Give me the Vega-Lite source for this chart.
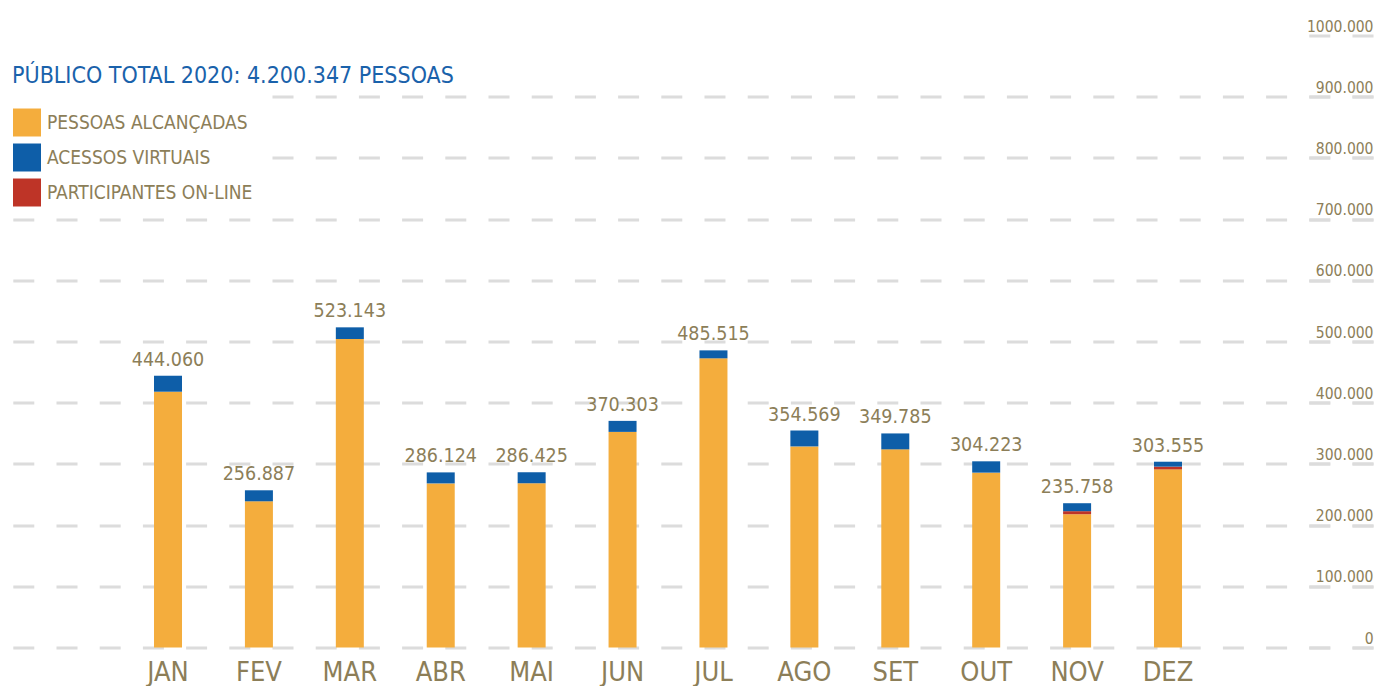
{
  "$schema": "https://vega.github.io/schema/vega-lite/v6.json",
  "width": 1361,
  "height": 612,
  "autosize": {"type": "none"},
  "padding": {"left": 12, "top": 35.5, "right": 4, "bottom": 38.5},
  "background": "white",
  "title": {
    "text": "PÚBLICO TOTAL 2020: 4.200.347 PESSOAS",
    "anchor": "start",
    "frame": "group",
    "orient": "top",
    "offset": 0,
    "dy": 87,
    "baseline": "alphabetic",
    "font": "DejaVu Sans Condensed, Roboto, sans-serif",
    "fontSize": 23,
    "fontWeight": "normal",
    "color": "#1a62ab"
  },
  "config": {
    "locale": {"number": {"decimal": ",", "thousands": ".", "grouping": [3], "currency": ["R$", ""]}},
    "view": {"stroke": null}
  },
  "data": {
    "values": [
      {"month": "JAN", "series": "PESSOAS ALCANÇADAS", "value": 417960},
      {"month": "JAN", "series": "ACESSOS VIRTUAIS", "value": 26100},
      {"month": "FEV", "series": "PESSOAS ALCANÇADAS", "value": 238887},
      {"month": "FEV", "series": "ACESSOS VIRTUAIS", "value": 18000},
      {"month": "MAR", "series": "PESSOAS ALCANÇADAS", "value": 504043},
      {"month": "MAR", "series": "ACESSOS VIRTUAIS", "value": 19100},
      {"month": "ABR", "series": "PESSOAS ALCANÇADAS", "value": 268124},
      {"month": "ABR", "series": "ACESSOS VIRTUAIS", "value": 18000},
      {"month": "MAI", "series": "PESSOAS ALCANÇADAS", "value": 268425},
      {"month": "MAI", "series": "ACESSOS VIRTUAIS", "value": 18000},
      {"month": "JUN", "series": "PESSOAS ALCANÇADAS", "value": 352303},
      {"month": "JUN", "series": "ACESSOS VIRTUAIS", "value": 18000},
      {"month": "JUL", "series": "PESSOAS ALCANÇADAS", "value": 472515},
      {"month": "JUL", "series": "ACESSOS VIRTUAIS", "value": 13000},
      {"month": "AGO", "series": "PESSOAS ALCANÇADAS", "value": 328569},
      {"month": "AGO", "series": "ACESSOS VIRTUAIS", "value": 26000},
      {"month": "SET", "series": "PESSOAS ALCANÇADAS", "value": 323785},
      {"month": "SET", "series": "ACESSOS VIRTUAIS", "value": 26000},
      {"month": "OUT", "series": "PESSOAS ALCANÇADAS", "value": 285723},
      {"month": "OUT", "series": "ACESSOS VIRTUAIS", "value": 18500},
      {"month": "NOV", "series": "PESSOAS ALCANÇADAS", "value": 217758},
      {"month": "NOV", "series": "PARTICIPANTES ON-LINE", "value": 5000},
      {"month": "NOV", "series": "ACESSOS VIRTUAIS", "value": 13000},
      {"month": "DEZ", "series": "PESSOAS ALCANÇADAS", "value": 291055},
      {"month": "DEZ", "series": "PARTICIPANTES ON-LINE", "value": 4500},
      {"month": "DEZ", "series": "ACESSOS VIRTUAIS", "value": 8000}
    ]
  },
  "encoding": {
    "x": {
      "field": "month",
      "type": "nominal",
      "scale": {
        "domain": ["JAN", "FEV", "MAR", "ABR", "MAI", "JUN", "JUL", "AGO", "SET", "OUT", "NOV", "DEZ", " "],
        "paddingInner": 0,
        "paddingOuter": 0.9855,
        "align": 0.617
      },
      "axis": {
        "title": null,
        "domain": false,
        "ticks": false,
        "grid": false,
        "labelAngle": 0,
        "labelFont": "DejaVu Sans Condensed, Roboto, sans-serif",
        "labelFontSize": 27,
        "labelColor": "#8c7e58",
        "labelPadding": 12
      }
    }
  },
  "layer": [
    {
      "transform": [
        {"calculate": "indexof(['PESSOAS ALCANÇADAS','PARTICIPANTES ON-LINE','ACESSOS VIRTUAIS'], datum.series)", "as": "ord"}
      ],
      "mark": {"type": "bar", "width": 28},
      "encoding": {
        "y": {
          "field": "value",
          "type": "quantitative",
          "stack": "zero",
          "scale": {"domain": [0, 1000000], "nice": false},
          "axis": {
            "orient": "right",
            "title": null,
            "domain": false,
            "values": [0, 100000, 200000, 300000, 400000, 500000, 600000, 700000, 800000, 900000, 1000000],
            "format": ",d",
            "labelExpr": "datum.value >= 1000000 ? '1000.000' : datum.label",
            "grid": true,
            "gridColor": "#dcdcdc",
            "gridWidth": 3,
            "gridDash": [21, 22.2],
            "gridOpacity": {"condition": {"test": "datum.value >= 1000000", "value": 0}, "value": 1},
            "ticks": true,
            "tickSize": -66,
            "tickColor": "#dcdcdc",
            "tickWidth": 3,
            "tickDash": [21, 22.2],
            "tickOpacity": 1,
            "labelAlign": "right",
            "labelBaseline": "alphabetic",
            "labelPadding": 66,
            "labelOffset": -4.5,
            "labelFont": "DejaVu Sans Condensed, Roboto, sans-serif",
            "labelFontSize": 15.5,
            "labelColor": "#8c7e58"
          }
        },
        "color": {
          "field": "series",
          "type": "nominal",
          "scale": {
            "domain": ["PESSOAS ALCANÇADAS", "ACESSOS VIRTUAIS", "PARTICIPANTES ON-LINE"],
            "range": ["#f4ad3d", "#0e5ea8", "#be3427"]
          },
          "legend": {
            "orient": "none",
            "legendX": -10,
            "legendY": 55,
            "title": " ",
            "titleFontSize": 1,
            "titlePadding": 6,
            "padding": 11,
            "fillColor": "white",
            "symbolType": "square",
            "symbolSize": 784,
            "symbolStrokeWidth": 0,
            "symbolOpacity": 1,
            "rowPadding": 7,
            "labelOffset": 6,
            "labelFont": "DejaVu Sans Condensed, Roboto, sans-serif",
            "labelFontSize": 19,
            "labelColor": "#8c7e58",
            "labelLimit": 500
          }
        },
        "order": {"field": "ord", "type": "quantitative"}
      }
    },
    {
      "transform": [
        {"aggregate": [{"op": "sum", "field": "value", "as": "total"}], "groupby": ["month"]}
      ],
      "mark": {
        "type": "text",
        "dy": -10,
        "baseline": "alphabetic",
        "font": "DejaVu Sans Condensed, Roboto, sans-serif",
        "fontSize": 19.5,
        "color": "#8c7e58"
      },
      "encoding": {
        "y": {"field": "total", "type": "quantitative"},
        "text": {"field": "total", "type": "quantitative", "format": ",d"}
      }
    }
  ]
}
